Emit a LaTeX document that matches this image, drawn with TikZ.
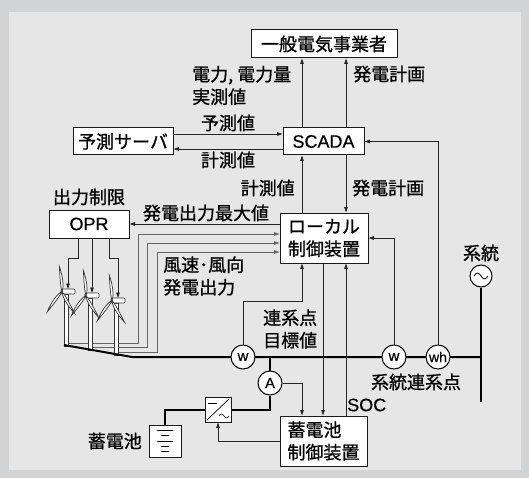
\documentclass[tikz,border=0pt]{standalone}
\usepackage{fontspec}
\setmainfont{Liberation Sans}[FakeBold=0.4]
\newfontfamily\jpfont{Noto Sans CJK JP}[FakeBold=0.9]
\usetikzlibrary{arrows.meta}
\definecolor{framegray}{HTML}{D2D3D5}
\definecolor{panelgray}{HTML}{E6E6E6}
\begin{document}
\begin{tikzpicture}[x=1pt,y=-1pt,
  box/.style={draw=black!90, line width=1pt, fill=white, inner sep=0pt},
  lbl/.style={font=\jpfont\fontsize{18}{22.5}\selectfont, inner sep=0pt},
  lat/.style={font=\fontsize{18}{21}\selectfont, inner sep=0pt},
  sig/.style={draw=black!85, line width=0.8pt},
  arr/.style={sig, -{Triangle[length=5.5pt,width=3.6pt]}},
  wsig/.style={draw=black!60, line width=0.8pt},
  warr/.style={wsig, -{Triangle[length=5.5pt,width=3.6pt]}},
  power/.style={draw=black, line width=2pt},
  meter/.style={circle, draw=black, line width=1pt, fill=white, minimum size=24pt,
    inner sep=0pt, font=\fontsize{15}{15}\selectfont},
  part/.style={draw=black!80, line width=0.7pt, fill=white},
  blade/.pic={\draw[part] (0,0) .. controls (5,2.6) and (15,2.4) .. (25,0)
     .. controls (15,-0.6) and (5,-1) .. cycle;},
]
% frame and panel
\fill[framegray] (0,0) rectangle (529,478);
\fill[panelgray] (9,12) rectangle (521,470);
\useasboundingbox (0,0) rectangle (529,478);

% blocks
\node[box, lbl, minimum width=146pt, minimum height=28pt] (util) at (324,44) {一般電気事業者};
\node[box, lbl, minimum width=100pt, minimum height=27pt] (fsv) at (123,141.5) {予測サーバ};
\node[box, lat, minimum width=81pt, minimum height=27pt] (scada) at (323.5,141.5) {SCADA};
\node[box, lat, minimum width=80pt, minimum height=28pt] (opr) at (89,224) {OPR};
\node[box, lbl, align=left, minimum width=88pt, minimum height=50pt] (local) at (324,238) {ローカル\\制御装置};
\node[box, lbl, align=left, minimum width=87pt, minimum height=50pt] (bctl) at (323.5,441) {蓄電池\\制御装置};
\node[box, minimum width=26pt, minimum height=25pt] (conv) at (218,409.5) {};
\node[box, minimum width=32pt, minimum height=32pt] (batt) at (165,441) {};

% converter symbol
\draw[line width=0.7pt] (207,420) -- (229,399);
\draw[line width=0.7pt] (208,403) -- (217,403);
\draw[line width=0.6pt] (219,416) sin (221.5,414) cos (224,416) sin (226.5,418) cos (229,416);
% battery cells
\foreach \yy/\ww in {430/8, 435/4, 441/8, 446/4, 451/4}
  \draw[line width=0.8pt] (165-\ww,\yy) -- (165+\ww,\yy);

% labels
\node[lbl, align=left, anchor=west] at (192,85.5) {電力, 電力量\\実測値};
\node[lbl, anchor=west] at (353,74) {発電計画};
\node[lbl] at (228,123) {予測値};
\node[lbl] at (228,160) {計測値};
\node[lbl, anchor=east] at (295,188) {計測値};
\node[lbl, anchor=west] at (352,188) {発電計画};
\node[lbl] at (89,197) {出力制限};
\node[lbl] at (206,213) {発電出力最大値};
\node[lbl, align=left, anchor=west] at (163,276) {風速･風向\\発電出力};
\node[lbl, align=left, anchor=west] at (263,329) {連系点\\目標値};
\node[lbl] at (481,253) {系統};
\node[lbl] at (416,382) {系統連系点};
\node[lat, anchor=west] at (347,405) {SOC};
\node[lbl, anchor=east] at (142,441) {蓄電池};

% reference columns and rows for connectors
\coordinate (cL) at (302,0);
\coordinate (cM) at (323,0);
\coordinate (cR) at (346,0);
\coordinate (rUp) at (0,134);
\coordinate (rDn) at (0,149);
\coordinate (o1) at (78,0);
\coordinate (o2) at (92,0);
\coordinate (o3) at (109,0);
\coordinate (k1) at (138,234);
\coordinate (k2) at (147,243);
\coordinate (k3) at (157,252);
\coordinate (tgt) at (302,301);

% turbine anchor points
\foreach \i/\T/\N/\B in {1/64/289/346, 2/88/293/350, 3/114/298/355} {
  \coordinate (nac\i) at (\T+4,\N);
  \coordinate (tw\i) at (\T+4.5,\B-3);
}

% wind data lines to the local controller
\draw[warr] (tw1) -| (k1) -- (k1 -| local.west);
\draw[warr] (tw2) -| (k2) -- (k2 -| local.west);
\draw[warr] (tw3) -| (k3) -- (k3 -| local.west);

% wind turbines
\foreach \i/\T/\N/\B in {1/64/289/346, 2/88/293/350, 3/114/298/355} {
  \draw[part] (\T,\N+5) rectangle (\T+4.5,\B);
  \draw[part, rounded corners=1pt] (\T-3,\N) rectangle (\T+11,\N+5);
  \pic[rotate=96] at (\T-2,\N+2.5) {blade};
  \pic[rotate=234] at (\T-2,\N+2.5) {blade};
  \pic[rotate=300] at (\T-2,\N+2.5) {blade};
}

% power lines
\coordinate (slopeL) at (64,345);
\coordinate (slopeR) at (132,357);
\coordinate (grid) at (481,357);
\coordinate (gridend) at (481,402);
\coordinate (tapA) at (270,357);
\draw[power] (slopeL) -- (slopeR) -- (grid);

\node[meter] (w1) at (243,357) {w};
\node[meter] (w2) at (394,357) {w};
\node[meter, font=\fontsize{14}{14}\selectfont] (wh) at (438,357) {wh};
\node[meter] (am) at (270,383) {A};
\node[meter, minimum size=22pt] (gen) at (481,276) {};
\draw[line width=0.8pt] (474,276) sin (477.5,273) cos (481,276) sin (484.5,279) cos (488,276);

\draw[power] (gen.south) -- (gridend);
\draw[power] (tapA) -- (am.north);
\draw[power] (am.south) |- (conv.east);
\draw[power] (conv.west) -| (batt.north);

% signal connectors
\draw[arr] (scada.north -| cL) -- (util.south -| cL);
\draw[arr] (scada.north -| cR) -- (util.south -| cR);
\draw[arr] (fsv.east |- rUp) -- (scada.west |- rUp);
\draw[arr] (scada.west |- rDn) -- (fsv.east |- rDn);
\draw[arr] (local.north -| cL) -- (scada.south -| cL);
\draw[arr] (scada.south -| cR) -- (local.north -| cR);
\draw[arr] (wh.north) |- (scada.east);
\draw[arr] (w2.north) |- (local.east);
\draw[arr] (local.west |- opr.east) -- (opr.east);
\draw[arr] (w1.north) |- (tgt) -- (local.south -| tgt);
\draw[arr] (local.south -| cM) -- (bctl.north -| cM);
\draw[arr] (bctl.north -| cR) -- (local.south -| cR);
\draw[arr] (am.east) -| (bctl.north -| cL);
\draw[arr] (bctl.west) -| (conv.south);

% output-limit commands to the turbines
\draw[arr] (opr.south -| o1) -- ++(0,20) -| (nac1);
\draw[arr] (opr.south -| o2) -- (nac2);
\draw[arr] (opr.south -| o3) -- ++(0,20) -| (nac3);
\end{tikzpicture}
\end{document}
